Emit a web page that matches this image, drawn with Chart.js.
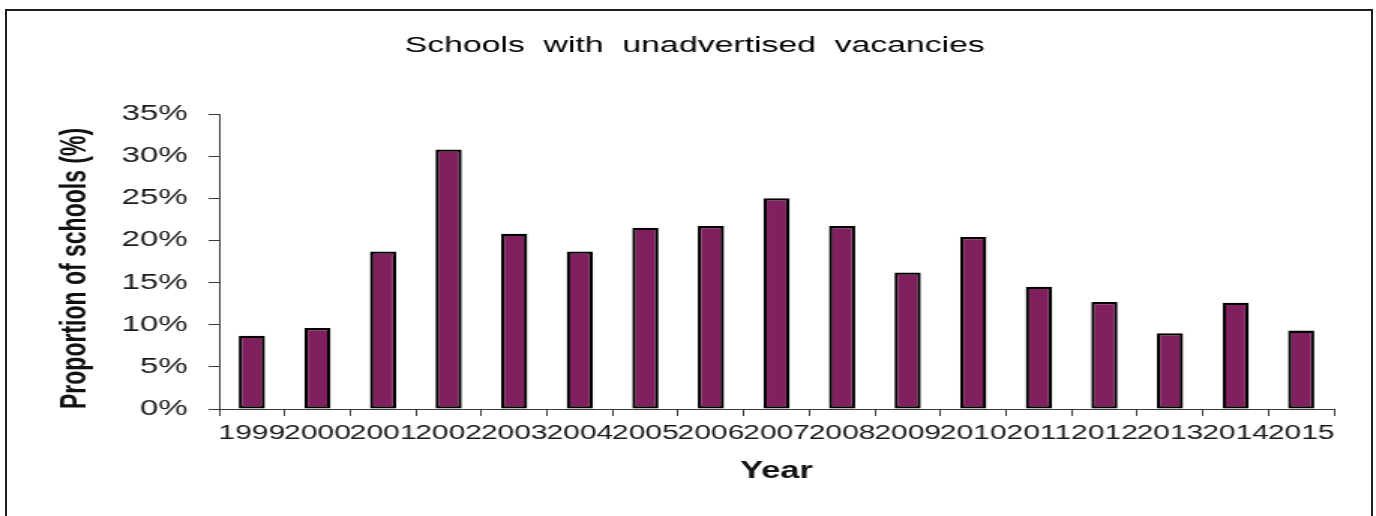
<!DOCTYPE html>
<html>
<head>
<meta charset="utf-8">
<script src="https://cdn.jsdelivr.net/npm/chart.js@4.4.1/dist/chart.umd.min.js"></script>
<style>
    html, body {
        margin: 0;
        padding: 0;
        background: #fff;
        overflow: hidden;
    }
    #frame {
        position: absolute;
        left: 5px;
        top: 9px;
        width: 1368px;
        height: 600px;
        border: 2px solid #1e1e1e;
        box-sizing: border-box;
    }
    /* the original is a horizontally stretched picture, so draw narrow and stretch */
    #wrap {
        position: absolute;
        left: 0;
        top: 0;
        width: 917px;
        height: 516px;
        transform: scaleX(1.5005);
        transform-origin: 0 0;
    }
    canvas {
        display: block;
    }
</style>
</head>
<body>
<div id="frame"></div>
<div id="wrap"><canvas id="chart" width="917" height="516"></canvas></div>
<script>
const years = ['1999', '2000', '2001', '2002', '2003', '2004', '2005', '2006', '2007',
    '2008', '2009', '2010', '2011', '2012', '2013', '2014', '2015'];
const proportion = [8.7, 9.6, 18.7, 30.8, 20.8, 18.7, 21.5, 21.7, 25.0,
    21.7, 16.2, 20.4, 14.5, 12.7, 9.0, 12.6, 9.3];
const yTickLabels = ['0%', '5%', '10%', '15%', '20%', '25%', '30%', '35%'];

const fontFamily = '"Liberation Sans", Arial, Helvetica, sans-serif';
const axisColor = '#3a3a3a';

const ctx = document.getElementById('chart');
new Chart(ctx, {
    type: 'bar',
    data: {
        labels: years,
        datasets: [{
            data: proportion,
            backgroundColor: '#80205e',
            borderColor: '#000000',
            borderWidth: 2.3,
            borderSkipped: false,
            barPercentage: 0.4,
            categoryPercentage: 1.0,
        }]
    },
    options: {
        responsive: false,
        devicePixelRatio: 1,
        animation: false,
        layout: {
            padding: { left: 37, right: 28, top: 0, bottom: 31 }
        },
        plugins: {
            legend: { display: false },
            tooltip: { enabled: false },
            title: {
                display: true,
                text: 'Schools  with  unadvertised  vacancies',
                color: '#000',
                font: { family: fontFamily, size: 22.5, weight: 'normal' },
                padding: { top: 32, bottom: 55 }
            }
        },
        scales: {
            x: {
                grid: {
                    display: true,
                    drawOnChartArea: false,
                    drawTicks: true,
                    tickLength: 7,
                    tickColor: axisColor,
                    offset: true,
                },
                border: { display: true, color: axisColor, width: 1 },
                ticks: {
                    color: '#1a1a1a',
                    font: { family: fontFamily, size: 20 },
                    padding: 5,
                    maxRotation: 0,
                    minRotation: 0,
                    autoSkip: false,
                },
                title: {
                    display: true,
                    text: 'Year',
                    color: '#111',
                    font: { family: fontFamily, size: 23, weight: 'bold' },
                    padding: 0
                },
                afterFit: (scale) => { scale.height = 76; }
            },
            y: {
                min: 0,
                max: 35,
                grid: {
                    display: true,
                    drawOnChartArea: false,
                    drawTicks: true,
                    tickLength: 7,
                    tickColor: axisColor,
                },
                border: { display: true, color: axisColor, width: 1 },
                ticks: {
                    stepSize: 5,
                    color: '#1a1a1a',
                    font: { family: fontFamily, size: 22 },
                    padding: 14,
                    callback: (value, index) => yTickLabels[index],
                },
                title: {
                    display: true,
                    text: 'Proportion of schools (%)',
                    align: 'start',
                    color: '#111',
                    font: { family: fontFamily, size: 23, weight: 'bold' },
                    padding: { top: 0, bottom: 0 }
                },
                afterFit: (scale) => { scale.width = 109; }
            }
        }
    }
});
</script>
</body>
</html>
